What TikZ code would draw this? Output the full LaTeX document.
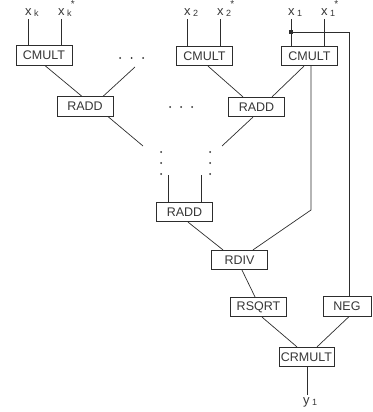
\documentclass[tikz,border=0pt]{standalone}
\usepackage{fontspec}
\setmainfont{Liberation Sans}
\definecolor{ink}{RGB}{45,45,45}
\definecolor{txt}{RGB}{55,55,55}
\tikzset{
  blk/.style={draw=ink, text=txt, line width=0.7pt, minimum width=56pt,
    minimum height=19.5pt, inner sep=0pt, fill=white,
    font=\fontsize{12.5}{12.5}\selectfont},
  wire/.style={draw=ink, line width=0.7pt},
  lab/.style={text=txt, anchor=base west, inner sep=0pt,
    font=\fontsize{13}{13}\selectfont},
  dotmark/.style={circle, fill=ink, inner sep=0pt, minimum size=2pt},
  joint/.style={rectangle, fill=ink, inner sep=0pt, minimum size=3.4pt}
}
% variable with a lowered index, optionally starred (conjugate)
\newcommand\subv[2]{#1\hspace{2.5pt}\raisebox{-1.2pt}{\fontsize{9}{9}\selectfont #2}}
\newcommand\subvs[2]{#1\hspace{2.5pt}\raisebox{-1.2pt}{\fontsize{9}{9}\selectfont #2\rlap{\hspace{-0.8pt}\raisebox{9.6pt}{\fontsize{10}{10}\selectfont *}}}}
\begin{document}
\begin{tikzpicture}[x=1pt,y=-1pt]
\useasboundingbox (0,0) rectangle (372,412);

% input labels
\node[lab] (xk)  at (25,15.5)  {\subv{x}{k}};
\node[lab] (xkc) at (58,15.5)  {\subvs{x}{k}};
\node[lab] (x2)  at (184,15.5) {\subv{x}{2}};
\node[lab] (x2c) at (217,15.5) {\subvs{x}{2}};
\node[lab] (x1)  at (288,15.5) {\subv{x}{1}};
\node[lab] (x1c) at (321,15.5) {\subvs{x}{1}};

% processing blocks
\node[blk] (CMk) at (44,55.5)    {CMULT};
\node[blk] (CM2) at (204.5,56)   {CMULT};
\node[blk] (CM1) at (309.5,56)   {CMULT};
\node[blk] (RAk) at (85,106.5)   {RADD};
\node[blk] (RA2) at (256.5,107)  {RADD};
\node[blk] (RA3) at (184.5,212)  {RADD};
\node[blk] (DIV) at (239.5,260)  {RDIV};
\node[blk] (SQR) at (258.5,307)  {RSQRT};
\node[blk, minimum width=48pt] (NEG) at (347,306.5) {NEG};
\node[blk, minimum width=55pt] (CRM) at (306.5,357) {CRMULT};

% output label
\node[lab] (y1) at (303,404) {\subv{y}{1}};

% free ends of the elided branches
\coordinate (e1) at (135,67);
\coordinate (e2) at (143,146);
\coordinate (e3) at (222,146);
\coordinate (e4) at (168,175);
\coordinate (e5) at (201,175);
\coordinate (bend) at (311,210);
\coordinate (yout) at (307,395);
\node[joint] (jn) at (291,32) {};

% inputs into the complex multipliers
\draw[wire] ([xshift=-16pt]CMk.north) -- ([xshift=-16pt,yshift=-2.3pt]CMk.north |- xk.south);
\draw[wire] ([xshift=17pt]CMk.north) -- ([xshift=17pt,yshift=-2.3pt]CMk.north |- xk.south);
\draw[wire] ([xshift=-17.5pt]CM2.north) -- ([xshift=-17.5pt,yshift=-2.3pt]CM2.north |- x2.south);
\draw[wire] ([xshift=15.5pt]CM2.north) -- ([xshift=15.5pt,yshift=-2.3pt]CM2.north |- x2.south);
\draw[wire] ([xshift=-18.5pt]CM1.north) -- ([xshift=-18.5pt,yshift=-2.3pt]CM1.north |- x1.south);
\draw[wire] ([xshift=14.5pt]CM1.north) -- ([xshift=14.5pt,yshift=-2.3pt]CM1.north |- x1.south);

% adder tree
\draw[wire] ([xshift=1pt]CMk.south) -- ([xshift=-3pt]RAk.north);
\draw[wire] (e1) -- ([xshift=18pt]RAk.north);
\draw[wire] ([xshift=23pt]RAk.south) -- (e2);
\draw[wire] ([xshift=3.5pt]CM2.south) -- ([xshift=-13.5pt]RA2.north);
\draw[wire] ([xshift=-5.5pt]CM1.south) -- ([xshift=15.5pt]RA2.north);
\draw[wire] ([xshift=-3.5pt]RA2.south) -- (e3);
\draw[wire] (e4) -- (e4 |- RA3.north);
\draw[wire] (e5) -- (e5 |- RA3.north);

% normalisation path
\draw[wire] ([xshift=1.5pt]CM1.south) -- (bend) -- ([xshift=13.5pt]DIV.north);
\draw[wire] ([xshift=3.5pt]RA3.south) -- ([xshift=-16.5pt]DIV.north);
\draw[wire] ([xshift=2.5pt]DIV.south) -- ([xshift=-3.5pt]SQR.north);
\draw[wire] (jn.center) -| ([xshift=2pt]NEG.north);
\draw[wire] ([xshift=3.5pt]SQR.south) -- ([xshift=-9.5pt]CRM.north);
\draw[wire] ([xshift=2pt]NEG.south) -- ([xshift=10.5pt]CRM.north);
\draw[wire] (CRM.south -| yout) -- (yout);

% ellipsis dots
\foreach \px [count=\i] in {120,131.5,143}
  \node[dotmark] (dh\i) at (\px,58) {};
\foreach \px [count=\i] in {170,181,192}
  \node[dotmark] (dm\i) at (\px,107) {};
\foreach \py [count=\i] in {152,163,174} {
  \node[dotmark] (dl\i) at (161,\py) {};
  \node[dotmark] (dr\i) at (210,\py) {};
}
\end{tikzpicture}
\end{document}
